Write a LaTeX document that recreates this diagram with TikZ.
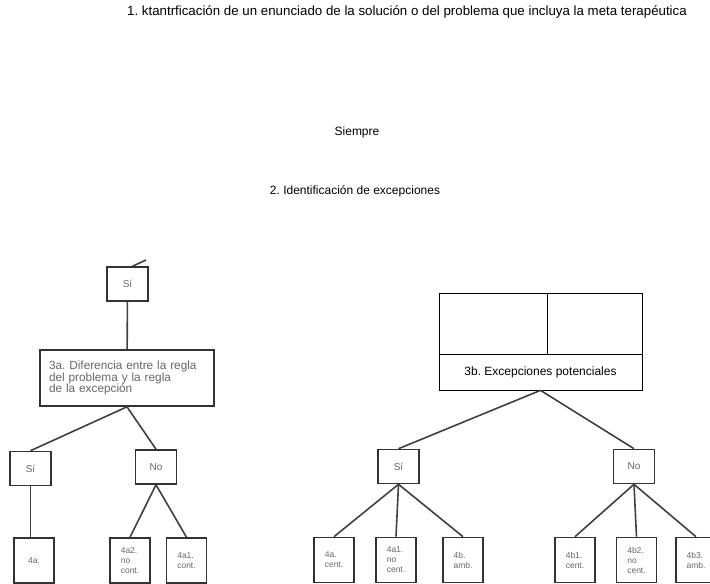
\documentclass[tikz,border=0pt]{standalone}
\usepackage{fontspec}
\setmainfont{Liberation Sans}
\frenchspacing
\begin{document}
\begin{tikzpicture}[x=1pt,y=-1pt,
   caja/.style={draw=black!80, line width=1.6pt, inner sep=1pt, text=black!60,
      font=\fontsize{10}{11}\selectfont, minimum width=41pt, minimum height=34pt},
   hoja/.style={caja, minimum width=40pt, minimum height=45pt, align=left,
      font=\fontsize{8.5}{10}\selectfont},
   celda/.style={draw, line width=0.7pt, inner sep=0pt},
   linea/.style={draw=black!75, line width=1.6pt},
   titulo/.style={font=\fontsize{12}{14}\selectfont}]
   \useasboundingbox (0,0) rectangle (710,584);

   \node[titulo, font=\fontsize{13.3}{15}\selectfont] (meta) at (407,12) {1. ktantrficación de un enunciado de la solución o del problema que incluya la meta terapéutica};
   \node[titulo] (siempre) at (357,132) {Siempre};
   \node[titulo] (excep) at (355,191) {2. Identificación de excepciones};

   % rama izquierda
   \node[caja] (siA) at (127.5,284) {Sí};
   \coordinate (cima) at (146,260);
   \node[caja, minimum width=174pt, minimum height=56pt, inner sep=9pt,
      text width=156pt, align=left, font=\fontsize{11.8}{11.7}\selectfont]
      (reglaA) at (127,378) {3a. Diferencia entre la regla\\del problema y la regla\\de la excepción};
   \node[caja] (siB) at (30.5,468.5) {Sí};
   \node[caja] (noB) at (156,467) {No};
   \node[hoja] (h4a) at (34,560.5) {4a.};
   \node[hoja] (h4a2) at (130,560.5) {4a2.\\no\\cont.};
   \node[hoja] (h4a1) at (186.5,560.5) {4a1.\\cont.};

   % rama derecha
   \node[celda, minimum width=108pt, minimum height=61pt] (celdaI) at (493,323.5) {};
   \node[celda, minimum width=95pt, minimum height=61pt] (celdaD) at (594.5,323.5) {};
   \node[celda, minimum width=203pt, minimum height=36pt, titulo, font=\fontsize{12}{13}\selectfont]
      (excepB) at (540.5,372) {3b. Excepciones potenciales};
   \node[caja] (siC) at (398.5,466.5) {Sí};
   \node[caja] (noC) at (634,466.5) {No};
   \node[hoja] (h4ac) at (334,560) {4a.\\cent.};
   \node[hoja] (h4a1n) at (396,560) {4a1.\\no\\cent.};
   \node[hoja] (h4b) at (463,560) {4b.\\amb.};
   \node[hoja] (h4b1) at (575,560) {4b1.\\cent.};
   \node[hoja] (h4b2) at (636.5,560) {4b2.\\no\\cent.};
   \node[hoja] (h4b3) at (696,560) {4b3.\\amb.};

   \draw[linea] ([xshift=5pt]siA.north) -- (cima);
   \draw[linea] (siA) -- (reglaA);
   \draw[linea] (reglaA.south) -- (siB.north);
   \draw[linea] (reglaA.south) -- (noB.north);
   \draw[linea] (siB.south) -- (siB.south |- h4a.north);
   \foreach \h in {h4a2,h4a1}
   \draw[linea] (noB.south) -- (\h.north);

   \draw[linea] (excepB.south) -- (siC.north);
   \draw[linea] (excepB.south) -- (noC.north);
   \foreach \h in {h4ac,h4a1n,h4b}
   \draw[linea] (siC.south) -- (\h.north);
   \foreach \h in {h4b1,h4b2,h4b3}
   \draw[linea] (noC.south) -- (\h.north);

\end{tikzpicture}
\end{document}
